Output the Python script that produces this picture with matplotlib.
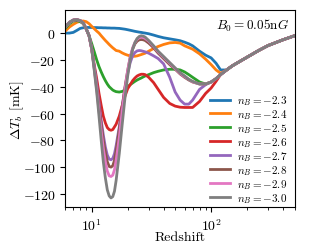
import matplotlib
matplotlib.use("Agg")
import matplotlib.pyplot as plt

plt.rcParams['mathtext.fontset'] = 'cm'
plt.rcParams['font.family'] = 'serif'
plt.rcParams['font.serif'] = ['cmr10', 'DejaVu Serif']
plt.rcParams['axes.formatter.use_mathtext'] = True
plt.rcParams['axes.unicode_minus'] = True

z = [6, 6.5, 7, 7.5, 8, 8.5, 9, 9.5, 10, 10.5, 11, 11.5, 12, 12.5, 13, 13.5, 14, 14.5,
     15, 15.5, 16, 17, 18, 19, 20, 21, 22, 23, 24, 25, 26, 27, 28, 30, 33, 36, 40, 45,
     50, 55, 60, 65, 70, 80, 90, 100, 110, 120, 135, 150, 175, 200, 250, 300, 400, 500]

# high-redshift tail shared by all curves
tail = [-27.5, -24.5, -21, -18, -13, -9.3, -5, -2]

T_23 = [0, 0, 0.5, 2, 3.5, 4, 4.2, 4.2, 4.2, 4.1, 4.1, 4, 4, 3.9, 3.9, 3.8, 3.8, 3.7,
        3.7, 3.7, 3.6, 3.5, 3.2, 2.9, 2.5, 2.1, 1.7, 1.3, 1, 0.7, 0.5, 0.2, 0, -0.5, -1.5, -2.5, -3.5, -4.3,
        -5, -5.7, -6.8, -8, -9.5, -13.5, -16.5, -18.5, -22.5, -27.5] + tail
T_24 = [1.5, 4.5, 6.5, 8, 8.8, 9, 8.5, 7, 5, 3.2, 1.5, 0, -2, -3.8, -5.5, -7, -8.5, -9.8,
        -11, -12, -13, -13.5, -14.8, -15.8, -16.5, -17, -17.3, -17.3, -17, -16.5, -16, -15.5, -15, -13.5, -11.5, -10, -8.5, -7.3,
        -7, -7.5, -9.5, -10.8, -12, -15.5, -19.5, -23.5, -27.5, -30] + tail
T_25 = [3.5, 7, 9, 9.3, 8.5, 7, 3, -2, -8, -14, -20, -25, -29, -32.5, -35.5, -38, -40, -41.3,
        -42.5, -43.2, -43.7, -44, -43.5, -42.5, -40, -38.5, -37.2, -36, -35, -34.2, -33.5, -32.7, -32, -31, -29.5, -28.5, -27.5, -27,
        -27, -27.5, -29, -31, -33, -36.5, -38, -36.5, -34, -31] + tail
T_26 = [4.5, 8, 9.7, 10, 9.3, 7.5, 3, -2, -12, -24, -34, -45, -54, -62, -67, -70.5, -72, -72.5,
        -72, -70, -68, -62, -54, -47, -41.5, -38.5, -35.5, -33.5, -32, -31.2, -30.7, -30.7, -31, -33, -37, -42, -48, -52.5,
        -54.5, -55.3, -55.5, -55.5, -55.5, -51, -45, -41, -36, -31] + tail
T_27 = [4.5, 8, 9.7, 10, 9.3, 7.5, 3, -2, -12, -25, -38, -52, -65, -76, -85, -91, -94, -94.5,
        -93.5, -90, -84, -70, -55, -41, -30, -22, -17, -14.5, -13.3, -13, -13.2, -13.6, -14, -15, -17, -19, -23, -33,
        -44, -50, -53, -53, -50, -42, -38.5, -36.5, -34, -31] + tail
T_28 = [4.5, 8, 9.7, 10, 9.3, 7.5, 3, -2, -12, -26, -40, -55, -68, -80, -89, -96, -99.5, -100,
        -99, -95, -88, -72, -55, -40, -28, -18, -12, -8, -6, -5, -4.8, -5, -5.5, -7.5, -11, -15, -19, -23.5,
        -27, -30.5, -33, -35, -36.5, -38, -38, -36.5, -34, -31] + tail
T_29 = [4.5, 8, 9.7, 10, 9.3, 7.5, 3, -2, -12, -27, -42, -58, -73, -86, -96, -103, -106.5, -107,
        -106, -102, -95, -78, -58, -42, -28, -18, -11, -7, -4.5, -3.5, -3, -3.3, -4, -6, -10, -14, -18, -22.5,
        -26.5, -30, -32.5, -34.5, -36.3, -38, -38, -36.5, -34, -31] + tail
T_30 = [4.5, 8, 9.7, 10, 9.3, 7.5, 3, -2, -12, -28, -44, -62, -80, -96, -108, -117, -121.5, -123,
        -122, -118, -110, -90, -68, -48, -32, -20, -12, -7, -4, -2.5, -2, -2.3, -3, -5.5, -9.5, -13.5, -17.5, -22,
        -26, -29.5, -32, -34.5, -36, -38, -38, -36.5, -34, -31] + tail

labels = [r"$n_B = -2.3$", r"$n_B = -2.4$", r"$n_B = -2.5$", r"$n_B = -2.6$",
          r"$n_B = -2.7$", r"$n_B = -2.8$", r"$n_B = -2.9$", r"$n_B = -3.0$"]
series = [T_23, T_24, T_25, T_26, T_27, T_28, T_29, T_30]
colors = ['#1f77b4', '#ff7f0e', '#2ca02c', '#d62728', '#9467bd', '#8c564b', '#e377c2', '#7f7f7f']

fig = plt.figure(figsize=(3.28, 2.51), dpi=100)
ax = fig.add_axes([0.199, 0.170, 0.699, 0.785])
for T, lab, c in zip(series, labels, colors):
    ax.plot(z, T, color=c, lw=2, label=lab)

ax.set_xscale('log')
ax.set_xlim(6, 500)
ax.set_ylim(-130, 17)
ax.set_yticks([0, -20, -40, -60, -80, -100, -120])
ax.tick_params(labelsize=10)
ax.set_xlabel("Redshift", fontsize=10)
ax.set_ylabel(r"$\Delta T_b$ [mK]", fontsize=10)
ax.yaxis.set_label_coords(-0.17, 0.5)
ax.xaxis.set_label_coords(0.5, -0.12)
ax.text(0.815, 0.925, r"$B_0 = 0.05{\rm n}G$", transform=ax.transAxes,
        ha='center', va='center', fontsize=9.5)
ax.legend(loc='lower right', bbox_to_anchor=(0.98, 0.0), frameon=False, fontsize=8,
          labelspacing=0.0, handlelength=1.8, handletextpad=0.6,
          borderaxespad=0.0, borderpad=0.25)

fig.savefig("out.png", dpi=100)
